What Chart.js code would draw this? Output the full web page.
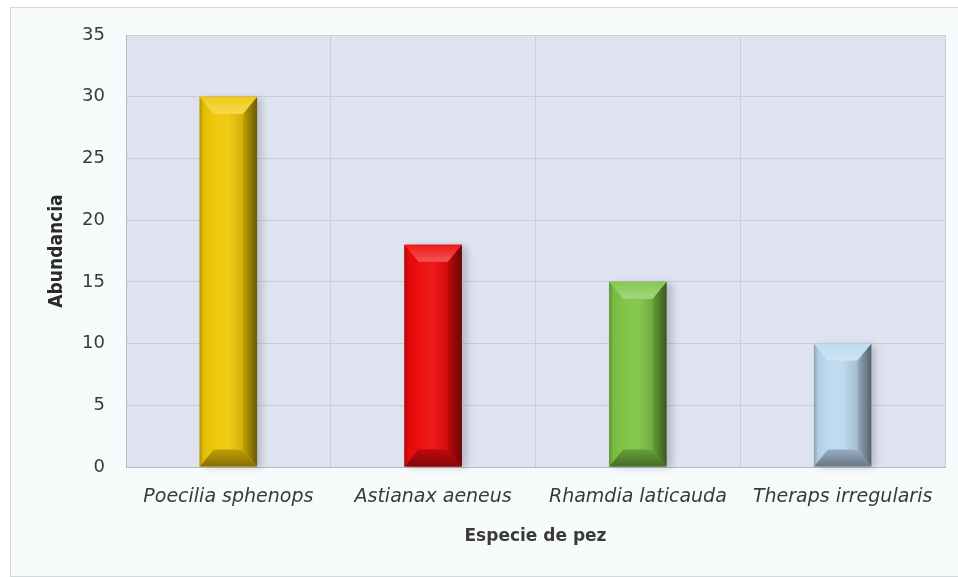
<!DOCTYPE html>
<html>
<head>
<meta charset="utf-8">
<script src="https://cdn.jsdelivr.net/npm/chart.js@4.4.1/dist/chart.umd.min.js"></script>
<style>
  html, body { margin: 0; padding: 0; background: #ffffff; }
  #frame {
    position: absolute; left: 10px; top: 7px; width: 960px; height: 568px;
    background: #f7fbfc; border: 1px solid #d3dadd;
  }
  #wrap { position: absolute; left: 0; top: 0; width: 958px; height: 577px; }
</style>
</head>
<body>
<div id="frame"></div>
<div id="wrap"><canvas id="chart" width="958" height="577"></canvas></div>
<script>
const especies = ['Poecilia sphenops', 'Astianax aeneus', 'Rhamdia laticauda', 'Theraps irregularis'];
const abundancia = [30, 18, 15, 10];
const yTicks = [0, 5, 10, 15, 20, 25, 30, 35];

const barColors = ['#efc808', '#ee0c0c', '#7fc447', '#bcd8f0'];

// mix a hex colour toward white (amt > 0) or black (amt < 0)
function shade(hex, amt) {
  const n = parseInt(hex.slice(1), 16);
  let r = n >> 16, g = (n >> 8) & 255, b = n & 255;
  const t = amt < 0 ? 0 : 255, p = Math.abs(amt);
  r = Math.round(r + (t - r) * p);
  g = Math.round(g + (t - g) * p);
  b = Math.round(b + (t - b) * p);
  return `rgb(${r},${g},${b})`;
}

const plotBg = {
  id: 'plotBg',
  beforeDraw(chart) {
    const {ctx, chartArea: a} = chart;
    ctx.save();
    ctx.fillStyle = '#dfe3f0';
    ctx.fillRect(a.left, a.top, a.right - a.left, a.bottom - a.top);
    ctx.restore();
  }
};

// bevelled look on every bar, using the geometry the bar elements already have
const bevel = {
  id: 'bevel',
  beforeDatasetsDraw(chart) {
    const ctx = chart.ctx;
    chart.getDatasetMeta(0).data.forEach(bar => {
      const {x, y, base, width} = bar.getProps(['x', 'y', 'base', 'width'], true);
      ctx.save();
      ctx.shadowColor = 'rgba(40,40,60,0.45)';
      ctx.shadowBlur = 7;
      ctx.shadowOffsetX = 5;
      ctx.shadowOffsetY = 1;
      ctx.fillStyle = 'rgba(80,80,90,0.5)';
      ctx.fillRect(x - width / 2, y, width, base - y);
      ctx.restore();
    });
  },
  afterDatasetsDraw(chart) {
    const ctx = chart.ctx;
    chart.getDatasetMeta(0).data.forEach((bar, i) => {
      const {x, y, base, width} = bar.getProps(['x', 'y', 'base', 'width'], true);
      const c = barColors[i];
      const l = x - width / 2, r = x + width / 2, t = y, b = base;
      const bx = 14, by = 17;
      ctx.save();

      // front face
      let g = ctx.createLinearGradient(l + bx, 0, r - bx, 0);
      g.addColorStop(0, shade(c, 0.02));
      g.addColorStop(0.5, shade(c, 0.06));
      g.addColorStop(1, shade(c, -0.12));
      ctx.fillStyle = g;
      ctx.fillRect(l + bx, t + by, r - l - 2 * bx, b - t - 2 * by);

      // left facet
      g = ctx.createLinearGradient(l, 0, l + bx, 0);
      g.addColorStop(0, shade(c, -0.25));
      g.addColorStop(0.3, shade(c, -0.05));
      g.addColorStop(1, shade(c, 0.0));
      ctx.fillStyle = g;
      ctx.beginPath();
      ctx.moveTo(l, t); ctx.lineTo(l + bx, t + by); ctx.lineTo(l + bx, b - by); ctx.lineTo(l, b);
      ctx.closePath(); ctx.fill();

      // right facet
      g = ctx.createLinearGradient(r - bx, 0, r, 0);
      g.addColorStop(0, shade(c, -0.2));
      g.addColorStop(1, shade(c, -0.55));
      ctx.fillStyle = g;
      ctx.beginPath();
      ctx.moveTo(r, t); ctx.lineTo(r - bx, t + by); ctx.lineTo(r - bx, b - by); ctx.lineTo(r, b);
      ctx.closePath(); ctx.fill();

      // top facet
      g = ctx.createLinearGradient(0, t, 0, t + by);
      g.addColorStop(0, shade(c, 0.05));
      g.addColorStop(1, shade(c, 0.3));
      ctx.fillStyle = g;
      ctx.beginPath();
      ctx.moveTo(l, t); ctx.lineTo(r, t); ctx.lineTo(r - bx, t + by); ctx.lineTo(l + bx, t + by);
      ctx.closePath(); ctx.fill();

      // bottom facet
      g = ctx.createLinearGradient(0, b - by, 0, b);
      g.addColorStop(0, shade(c, -0.2));
      g.addColorStop(1, shade(c, -0.45));
      ctx.fillStyle = g;
      ctx.beginPath();
      ctx.moveTo(l, b); ctx.lineTo(r, b); ctx.lineTo(r - bx, b - by); ctx.lineTo(l + bx, b - by);
      ctx.closePath(); ctx.fill();

      ctx.restore();
    });
  }
};

new Chart(document.getElementById('chart'), {
  type: 'bar',
  data: {
    labels: especies,
    datasets: [{
      data: abundancia,
      backgroundColor: barColors,
      borderWidth: 0,
      barPercentage: 0.28,
      categoryPercentage: 1
    }]
  },
  options: {
    responsive: false,
    animation: false,
    layout: { padding: { left: 0, right: 13, top: 35, bottom: 0 } },
    plugins: { legend: { display: false }, tooltip: { enabled: false } },
    scales: {
      x: {
        afterFit: s => { s.height = 110; },
        grid: { color: '#c8cdd8', drawTicks: false, offset: true },
        border: { color: '#b4b8c2' },
        ticks: {
          padding: 19,
          color: '#3a3a3a',
          font: { family: 'DejaVu Sans', size: 19, style: 'italic' }
        },
        title: {
          display: true,
          text: 'Especie de pez',
          color: '#3a3a3a',
          padding: { top: 0, bottom: 30 },
          font: { family: 'DejaVu Sans', size: 17, weight: 'bold' }
        }
      },
      y: {
        min: 0,
        max: 35,
        afterFit: s => { s.width = 126; },
        afterBuildTicks: s => { s.ticks = yTicks.map(v => ({ value: v })); },
        grid: { color: '#c8cdd8', drawTicks: false },
        border: { color: '#b4b8c2' },
        ticks: {
          padding: 21,
          color: '#3a3a3a',
          font: { family: 'DejaVu Sans', size: 18 }
        },
        title: {
          display: true,
          text: 'Abundancia',
          color: '#2a2a2a',
          padding: { top: 46, bottom: 0 },
          font: { family: "'DejaVu Sans Condensed', 'DejaVu Sans', sans-serif", size: 19, weight: 'bold' }
        }
      }
    }
  },
  plugins: [plotBg, bevel]
});
</script>
</body>
</html>
